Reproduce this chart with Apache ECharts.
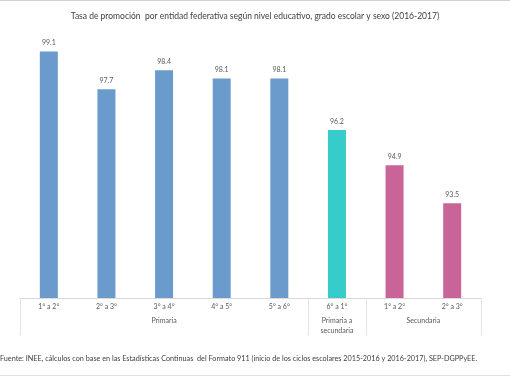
<!DOCTYPE html>
<html><head><meta charset="utf-8">
<script src="https://cdn.jsdelivr.net/npm/echarts@6/dist/echarts.min.js"></script>
<style>html,body{margin:0;padding:0;background:#fff}#c{width:510px;height:382px}</style>
</head><body><div id="c"></div>
<script>
var title = 'Tasa de promoción  por entidad federativa según nivel educativo, grado escolar y sexo (2016-2017)';
var source = 'Fuente: INEE, cálculos con base en las Estadísticas Continuas  del Formato 911 (inicio de los ciclos escolares 2015-2016 y 2016-2017), SEP-DGPPyEE.';
var categories = ['1° a 2°','2° a 3°','3° a 4°','4° a 5°','5° a 6°','6° a 1°','1° a 2°','2° a 3°'];
var values = [99.1, 97.7, 98.4, 98.1, 98.1, 96.2, 94.9, 93.5];
var barGroup = [0, 0, 0, 0, 0, 1, 2, 2];
var groupNames = ['Primaria', 'Primaria a\nsecundaria', 'Secundaria'];
var groupStart = [0, 5, 6];
var groupEnd = [4, 5, 7];
var groupColors = ['#6a9bcc', '#35cccb', '#c96498'];

var FONT = 'Lato, "Open Sans", "Liberation Sans", sans-serif';
var chart = echarts.init(document.getElementById('c'));
var option = {
  animation: false,
  backgroundColor: '#fff',
  textStyle: {fontFamily: FONT},
  title: {text: title, left: 'center', top: 7,
    textStyle: {fontSize: 8.5, fontWeight: 'normal', color: '#404040', fontFamily: FONT}},
  grid: {left: 20, right: 29, top: 27, bottom: 84},
  xAxis: {type: 'category', data: categories,
    axisLine: {lineStyle: {color: '#d9d9d9'}}, axisTick: {show: false},
    axisLabel: {fontSize: 7, color: '#595959', margin: 5, fontFamily: FONT}},
  yAxis: {type: 'value', min: 90, max: 100, show: false, splitLine: {show: false}},
  series: [{type: 'bar', barWidth: 18,
    data: values.map(function(v, i){ return {value: v, itemStyle: {color: groupColors[barGroup[i]]}}; }),
    label: {show: true, position: 'top', distance: 5, fontSize: 7, color: '#595959', fontFamily: FONT,
      formatter: function(p){ return p.value.toFixed(1); }}
  }]
};
chart.setOption(option);

var x0 = chart.convertToPixel({xAxisIndex: 0}, 0);
var x1 = chart.convertToPixel({xAxisIndex: 0}, 1);
var band = x1 - x0;
var baseY = chart.convertToPixel({yAxisIndex: 0}, 90);
var els = [];
var bounds = [groupStart[0]];
for (var g = 0; g < groupNames.length; g++) bounds.push(groupEnd[g] + 1);
bounds.forEach(function(b){
  var x = Math.round(x0 - band / 2 + b * band) + 0.5;
  els.push({type: 'line', shape: {x1: x, y1: baseY, x2: x, y2: baseY + 37},
    style: {stroke: '#e3e3e3', lineWidth: 1}});
});
for (var g = 0; g < groupNames.length; g++) {
  var cx = x0 + (groupStart[g] + groupEnd[g]) / 2 * band;
  els.push({type: 'text', x: cx, y: baseY + 18,
    style: {text: groupNames[g], fill: '#595959', fontSize: 7, fontFamily: FONT, align: 'center', verticalAlign: 'top', lineHeight: 10}});
}
els.push({type: 'text', x: 0, y: 355, style: {text: source, fill: '#404040', fontSize: 7.25, fontFamily: FONT, align: 'left', verticalAlign: 'top'}});
els.push({type: 'line', shape: {x1: 0, y1: 0.5, x2: 510, y2: 0.5}, style: {stroke: '#d0d0d0', lineWidth: 1}});
els.push({type: 'line', shape: {x1: 0, y1: 375.5, x2: 510, y2: 375.5}, style: {stroke: '#e0e0e0', lineWidth: 1}});
chart.setOption({graphic: {elements: els}});
</script></body></html>
